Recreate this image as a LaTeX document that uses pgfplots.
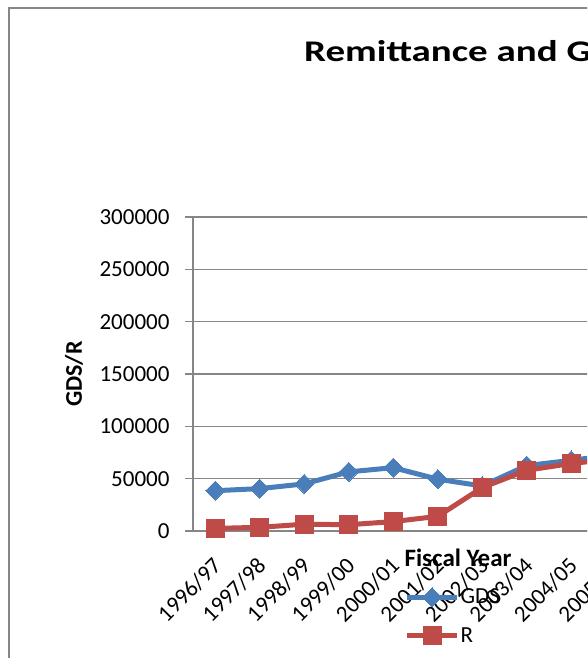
\documentclass[border=0pt]{standalone}
\usepackage{pgfplots}
\pgfplotsset{compat=1.18}
\usepackage{fontspec}
\setmainfont{Carlito}
\newfontfamily\titlefont[FakeStretch=1.3]{Carlito}

\definecolor{gdsblue}{HTML}{4A7EBB}
\definecolor{remred}{HTML}{BE4B48}
\definecolor{gridgray}{HTML}{868686}

\begin{document}
\begin{tikzpicture}
\useasboundingbox (0pt,0pt) rectangle (587pt,658pt);
\clip (0pt,0pt) rectangle (587pt,658pt);
\fill[white] (0pt,0pt) rectangle (587pt,658pt);
% chart frame (continues past the cropped edge)
\draw[gridgray, line width=1.3pt] (9pt,-50pt) -- (9pt,650pt) -- (700pt,650pt);
\node[anchor=base west, inner sep=0pt, font=\titlefont\bfseries\fontsize{30}{36}\selectfont] at (304pt,596.5pt) {Remittance and GDS};

\begin{axis}[
  at={(193pt,127pt)}, anchor=south west,
  scale only axis,
  width=489.5pt, height=314pt,
  xmin=-0.5, xmax=10.5,
  ymin=0, ymax=300000,
  xtick=data,
  xticklabels={1996/97,1997/98,1998/99,1999/00,2000/01,2001/02,2002/03,2003/04,2004/05,2005/06,2006/07},
  ytick={0,50000,100000,150000,200000,250000,300000},
  scaled y ticks=false,
  yticklabel style={/pgf/number format/fixed, /pgf/number format/precision=0,
    /pgf/number format/1000 sep={}, /pgf/number format/assume math mode=true, xshift=-12pt},
  ticklabel style={font=\fontsize{23}{27}\selectfont},
  xticklabel style={xshift=-4pt, yshift=-12pt, rotate=45, anchor=north east},
  axis x line*=bottom, axis y line*=left,
  x axis line style={gridgray, line width=1.5pt, -},
  y axis line style={gridgray, line width=1.5pt, -},
  xtick style={draw=none},
  ytick style={gridgray, line width=1.5pt},
  tick align=outside, major tick length=8pt,
  ymajorgrids, grid style={gridgray, line width=1.5pt},
  ylabel={\bfseries GDS/R},
  ylabel style={font=\fontsize{24}{28}\selectfont, at={(axis description cs:-0.243,0.5)}, anchor=center},
  xlabel={\bfseries Fiscal Year},
  xlabel style={font=\fontsize{25}{29}\selectfont, at={(axis description cs:0.5414,-0.086)}, anchor=center},
  legend style={draw=none, fill=none, at={(axis description cs:0.432,-0.272)}, anchor=west,
    font=\fontsize{23}{27}\selectfont, row sep=20pt, inner sep=0pt,
    nodes={inner sep=1pt}},
  legend cell align=left,
  legend image code/.code={%
    \draw[mark repeat=2, mark phase=2, #1] plot coordinates {(0pt,0pt) (25pt,0pt) (50pt,0pt)};},
]
\addplot[gdsblue, line width=5pt, mark=square*, mark size=6.7pt, mark options={solid, rotate=45, line width=0pt, fill=gdsblue}]
  coordinates {(0,38500) (1,40500) (2,45000) (3,56500) (4,60500) (5,49500) (6,43000) (7,62500) (8,67500) (9,73000) (10,80000)};
\addlegendentry{GDS}
\addplot[remred, line width=5pt, mark=square*, mark size=9pt, mark options={solid, line width=0pt, fill=remred}]
  coordinates {(0,2500) (1,3500) (2,6500) (3,6000) (4,9000) (5,14000) (6,41500) (7,58000) (8,64500) (9,69000) (10,78000)};
\addlegendentry{R}
\end{axis}
\end{tikzpicture}
\end{document}
